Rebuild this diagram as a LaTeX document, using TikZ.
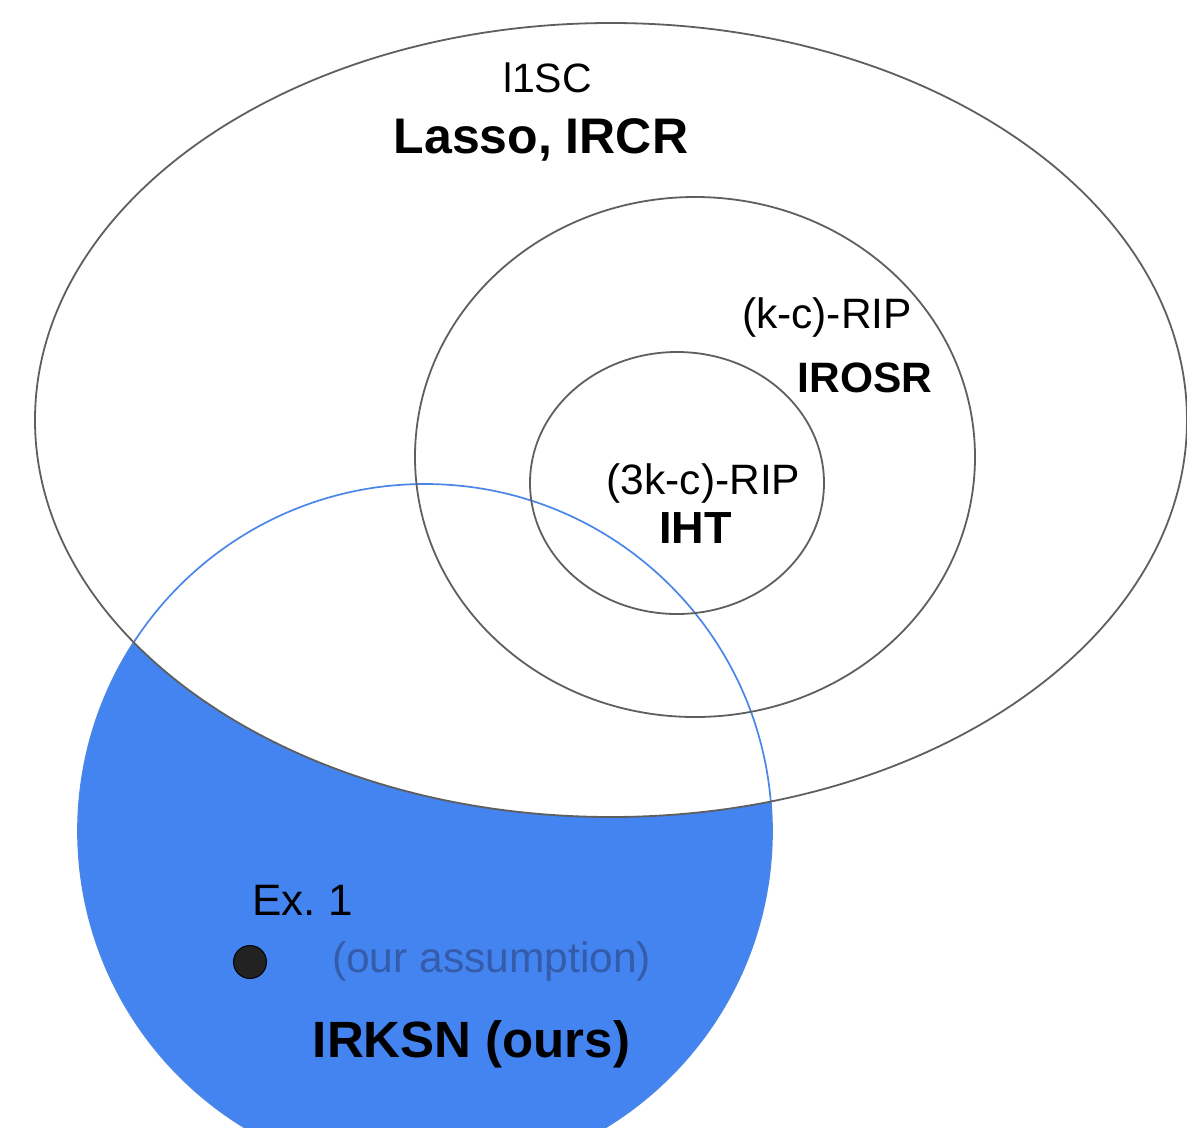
\documentclass[tikz,border=0pt]{standalone}
\usepackage{fontspec}
\setmainfont{Liberation Sans}
\definecolor{gblue}{RGB}{67,132,240}
\definecolor{bline}{RGB}{74,134,232}
\definecolor{gline}{RGB}{95,95,95}
\definecolor{asmp}{RGB}{52,92,170}
\definecolor{dotc}{RGB}{34,34,34}
\tikzset{
  setline/.style={draw=gline, line width=1.8pt},
  lbl/.style={anchor=base, inner sep=0pt, text=black},
  small/.style={lbl, font=\fontsize{42.5}{44}\selectfont},
  big/.style={lbl, font=\fontsize{50}{52}\selectfont\bfseries},
}
\begin{document}
\frenchspacing
\begin{tikzpicture}[x=1pt,y=-1pt]
\useasboundingbox (0,0) rectangle (1187,1128);
\clip (0,0) rectangle (1187,1128);
% named centres
\coordinate (cbig) at (611,420);
\coordinate (cmid) at (695,457);
\coordinate (csml) at (677,483);
\coordinate (cblu) at (425,831);
% blue set, only outside the large set
\fill[gblue] (cblu) circle[radius=347];
\fill[white] (cbig) ellipse[x radius=576, y radius=397];
\draw[draw=bline, line width=1.7pt] (cblu) circle[radius=347];
% nested sets
\draw[setline] (cbig) ellipse[x radius=576, y radius=397];
\draw[setline] (cmid) ellipse[x radius=280, y radius=260];
\draw[setline] (csml) ellipse[x radius=147, y radius=131];
% labels
\node[lbl, font=\fontsize{41}{43}\selectfont] (l1sc) at (547.5,92) {l1SC};
\node[big] (lasso) at (541,153) {Lasso, IRCR};
\node[small] (kcrip) at (827,328) {(k-c)-RIP};
\node[lbl, font=\fontsize{42.5}{44}\selectfont\bfseries] (irosr) at (865,392) {IROSR};
\node[small] (tkrip) at (703.5,494) {(3k-c)-RIP};
\node[lbl, font=\fontsize{45}{47}\selectfont\bfseries] (iht) at (695.5,543) {IHT};
\node[lbl, font=\fontsize{44}{46}\selectfont] (ex1) at (302.5,915) {Ex.\ 1};
\node[small, text=asmp] (asm) at (491.5,972) {(our assumption)};
\node[lbl, font=\fontsize{51}{53}\selectfont\bfseries] (irksn) at (471.5,1057) {IRKSN (ours)};
\node[circle, fill=dotc, draw=black, line width=1pt, minimum size=33pt, inner sep=0pt] (dot) at (250,962) {};
\end{tikzpicture}
\end{document}
